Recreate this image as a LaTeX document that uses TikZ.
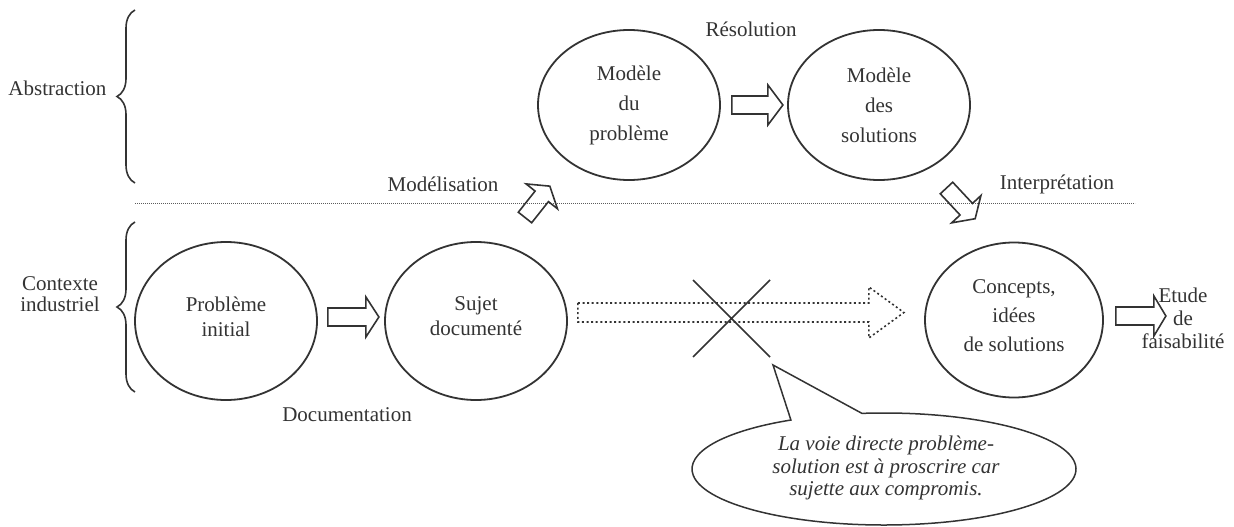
\documentclass[tikz,border=0pt]{standalone}
\usepackage{fontspec}
\setmainfont{Liberation Serif}
\usetikzlibrary{shapes.geometric,decorations.pathreplacing,calc}
\definecolor{ink}{HTML}{333333}
% #1 options, #2 start coordinate, #3 angle, #4 length, #5 head length, #6 shaft half width, #7 head half width
\newcommand\blkarrow[7]{%
  \draw[#1, shift={(#2)}, rotate=#3] (0,-#6) -- ({#4-#5},-#6) -- ({#4-#5},-#7) -- (#4,0)
    -- ({#4-#5},#7) -- ({#4-#5},#6) -- (0,#6) -- cycle;}
\begin{document}
\begin{tikzpicture}[x=1pt,y=-1pt,
  every node/.style={font=\fontsize{21}{25}\selectfont, text=ink},
  ell/.style={ellipse, draw=ink, line width=1.8pt, inner sep=0pt, align=center},
  inner/.style={align=center, yshift=4.5pt},
  blk/.style={draw=ink, line width=1.6pt, line join=miter},
  blkdot/.style={draw=ink, line width=1.6pt, dash pattern=on 2pt off 2.6pt},
  brc/.style={draw=ink, line width=1.6pt, decorate, decoration={brace, amplitude=18pt}},
  sep/.style={draw=ink!80, line width=0.6pt, dash pattern=on 0.8pt off 1.2pt},
  lbl/.style={align=center}
]
\useasboundingbox (0,0) rectangle (1234,527);

% ellipses
\node[ell, minimum width=182, minimum height=158,
  label={[inner]center:Problème\\initial}] (pi) at (226,321) {};
\node[ell, minimum width=182, minimum height=158,
  label={[inner]center:Sujet\\documenté}] (sd) at (476,321) {};
\node[ell, minimum width=182, minimum height=150, font=\fontsize{21}{30}\selectfont] (mp) at (629,105) {Modèle\\du\\problème};
\node[ell, minimum width=182, minimum height=150, font=\fontsize{21}{30}\selectfont] (ms) at (879,105) {Modèle\\des\\solutions};
\node[ell, minimum width=178, minimum height=155,
  label={[inner, font=\fontsize{21}{29}\selectfont]center:Concepts,\\idées\\de solutions}] (cs) at (1014,320) {};

% labels
\node (res) at (751,29) {Résolution};
\node (mod) at (443,184) {Modélisation};
\node (int) at (1057,184) {Interprétation};
\node (doc) at (347,415) {Documentation};
\node[lbl, font=\fontsize{21}{23}\selectfont] (etu) at (1183,318) {Etude\\de\\faisabilité};
\node[anchor=east] (abs) at (110,88) {Abstraction};
\node[lbl, font=\fontsize{21}{21}\selectfont] (ctx) at (60,294) {Contexte\\industriel};

% braces
\coordinate (b1t) at (135,10);
\coordinate (b1b) at (135,183);
\coordinate (b2t) at (135,222);
\coordinate (b2b) at (135,392);
\draw[brc] (b1b) -- (b1t);
\draw[brc] (b2b) -- (b2t);

% separator
\coordinate (sepL) at (135,203);
\coordinate (sepR) at (1135,203);
\draw[sep] (sepL) -- (sepR);

% block arrows
\coordinate (a1) at ($(pi.east)+(10,-4)$);
\blkarrow{blk}{a1}{0}{51}{13}{9}{20}
\coordinate (a2) at ($(mp.east)+(11,0)$);
\blkarrow{blk}{a2}{0}{51}{15}{9}{20}
\coordinate (a3) at ($(cs.east)+(12,-4)$);
\blkarrow{blk}{a3}{0}{50}{12}{9}{20}
\coordinate (a4) at (525,217.5);
\blkarrow{blk}{a4}{51.6}{40}{13}{8.5}{20}
\coordinate (a5) at (946.5,188);
\blkarrow{blk}{a5}{-47}{42}{13}{8.5}{20}
\coordinate (a6) at ($(sd.east)+(10,-8.5)$);
\blkarrow{blkdot}{a6}{0}{326}{35}{9.5}{25.5}

% cross
\coordinate (x1) at (693,280);
\coordinate (x2) at (770,357);
\coordinate (x3) at (770,280);
\coordinate (x4) at (693,357);
\draw[ink, line width=1.6pt] (x1) -- (x2) (x3) -- (x4);

% callout
\coordinate (tip) at (773,365);
\draw[ink, line width=1.5pt, fill=white]
  (884,469) ++ (263.4:192 and 56) arc[start angle=263.4, end angle=601, x radius=192, y radius=56]
  -- (tip) -- cycle;
\node[lbl, font=\fontsize{21}{22.5}\selectfont\itshape] (note) at (886,468)
  {La voie directe problème-\\solution est à proscrire car\\sujette aux compromis.};
\end{tikzpicture}
\end{document}
